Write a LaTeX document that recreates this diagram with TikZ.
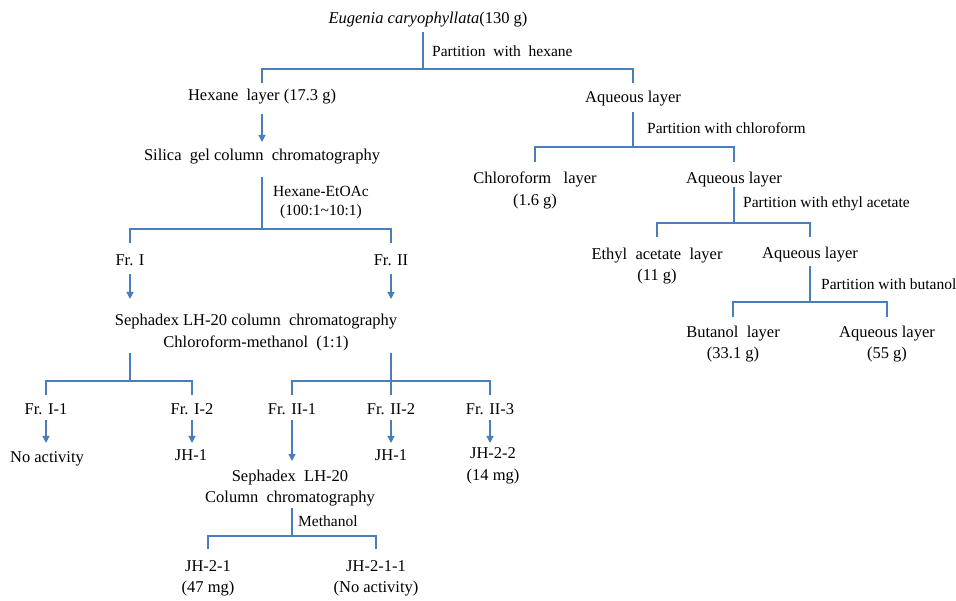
\documentclass[tikz,border=0pt]{standalone}
\usepackage{fontspec}
\setmainfont{Liberation Serif}
\usetikzlibrary{arrows.meta}
\definecolor{lnblue}{HTML}{4A7EBB}
\tikzset{
  nd/.style={inner sep=0pt, align=center, font=\fontsize{16.5}{21.5}\selectfont},
  lbl/.style={inner sep=0pt, anchor=west, align=center, font=\fontsize{15.5}{19.5}\selectfont},
  ln/.style={draw=lnblue, line width=1.2pt},
  arr/.style={ln, -{Triangle[width=7pt,length=7pt]}}
}
\begin{document}
\begin{tikzpicture}[x=1pt,y=-1pt]
\useasboundingbox (0,0) rectangle (956,601);
% nodes
\node[nd] (t) at (428,20) {\textit{Eugenia caryophyllata}(130 g)};
\node[nd] (hex) at (262,97) {Hexane\ \ layer (17.3 g)};
\node[nd] (aq1) at (633,99) {Aqueous layer};
\node[nd] (sil) at (262,157) {Silica\ \ gel column\ \ chromatography};
\node[nd] (f1) at (130,260) {Fr. I};
\node[nd] (f2) at (391,260) {Fr. II};
\node[nd] (sep1) at (256,332.5) {Sephadex LH-20 column\ \ chromatography\\Chloroform-methanol\ \ (1:1)};
\node[nd] (f11) at (46,409) {Fr. I-1};
\node[nd] (f12) at (192,409) {Fr. I-2};
\node[nd] (f21) at (292,409) {Fr. II-1};
\node[nd] (f22) at (391,409) {Fr. II-2};
\node[nd] (f23) at (490,409) {Fr. II-3};
\node[nd] (na) at (47,459) {No activity};
\node[nd] (jh1a) at (191,455) {JH-1};
\node[nd] (jh1b) at (391,455) {JH-1};
\node[nd] (jh22) at (493,466) {JH-2-2\\(14 mg)};
\node[nd] (sep2) at (290,488) {Sephadex\ \ LH-20\\Column\ \ chromatography};
\node[nd] (jh21) at (208,578.5) {JH-2-1\\(47 mg)};
\node[nd] (jh211) at (376,578.5) {JH-2-1-1\\(No activity)};
\node[nd] (chl) at (535,190.5) {Chloroform\ \ \ layer\\(1.6 g)};
\node[nd] (aq2) at (734,180) {Aqueous layer};
\node[nd] (ea) at (657,266) {Ethyl\ \ acetate\ \ layer\\(11 g)};
\node[nd] (aq3) at (810,255) {Aqueous layer};
\node[nd] (bu) at (733,344) {Butanol\ \ layer\\(33.1 g)};
\node[nd] (aq4) at (887,344) {Aqueous layer\\(55 g)};
% labels
\node[lbl] (l1) at (432,51) {Partition\ \ with\ \ hexane};
\node[lbl, anchor=center] (l2) at (321,202.5) {Hexane-EtOAc\\(100:1\textasciitilde 10:1)};
\node[lbl] (l3) at (647,128) {Partition with chloroform};
\node[lbl] (l4) at (743,204) {Partition with ethyl acetate};
\node[lbl] (l5) at (821,284) {Partition with butanol};
\node[lbl] (l6) at (298,521) {Methanol};
% junctions
\coordinate (j1) at (423,69);
\coordinate (j2) at (262,229);
\coordinate (j3) at (130,381);
\coordinate (j4) at (391,381);
\coordinate (j5) at (292,536);
\coordinate (j6) at (633,147);
\coordinate (j7) at (734,223);
\coordinate (j8) at (810,302);
% connectors
\draw[ln] ([yshift=-12pt]t.center -| j1) -- (j1);
\draw[ln] ([yshift=14pt]hex.center) |- (j1) -| ([yshift=16pt]aq1.center);
\draw[arr] ([yshift=-17pt]hex.center) -- ([yshift=15pt]sil.center);
\draw[ln] ([yshift=-20pt]sil.center) -- (j2);
\draw[ln] ([yshift=17pt]f1.center) |- (j2) -| ([yshift=17pt]f2.center);
\draw[arr] ([yshift=-14pt]f1.center) -- ([yshift=33.5pt]sep1.center -| f1);
\draw[arr] ([yshift=-14pt]f2.center) -- ([yshift=33.5pt]sep1.center -| f2);
\draw[ln] ([yshift=-20.5pt]sep1.center -| j3) -- (j3);
\draw[ln] ([yshift=14pt]f11.center) |- (j3) -| ([yshift=14pt]f12.center);
\draw[ln] ([yshift=-20.5pt]sep1.center -| j4) -- (j4);
\draw[ln] ([yshift=14pt]f21.center) |- (j4) -| ([yshift=14pt]f23.center);
\draw[ln] ([yshift=14pt]f22.center) -- (j4);
\draw[arr] ([yshift=-11pt]f11.center) -- ([yshift=16pt]na.center -| f11);
\draw[arr] ([yshift=-11pt]f12.center) -- ([yshift=12pt]jh1a.center -| f12);
\draw[arr] ([yshift=-11pt]f22.center) -- ([yshift=12pt]jh1b.center -| f22);
\draw[arr] ([yshift=-11pt]f23.center) -- ([yshift=23pt]jh22.center -| f23);
\draw[arr] ([yshift=-11pt]f21.center) -- ([yshift=27pt]sep2.center -| f21);
\draw[ln] ([yshift=-20pt]sep2.center -| j5) -- (j5);
\draw[ln] ([yshift=29.5pt]jh21.center) |- (j5) -| ([yshift=29.5pt]jh211.center);
\draw[ln] ([yshift=-13pt]aq1.center) -- (j6);
\draw[ln] ([yshift=28.5pt]chl.center) |- (j6) -| ([yshift=18pt]aq2.center);
\draw[ln] ([yshift=-7pt]aq2.center) -- (j7);
\draw[ln] ([yshift=29pt]ea.center) |- (j7) -| ([yshift=18pt]aq3.center);
\draw[ln] ([yshift=-11pt]aq3.center) -- (j8);
\draw[ln] ([yshift=27pt]bu.center) |- (j8) -| ([yshift=27pt]aq4.center);
\end{tikzpicture}
\end{document}
